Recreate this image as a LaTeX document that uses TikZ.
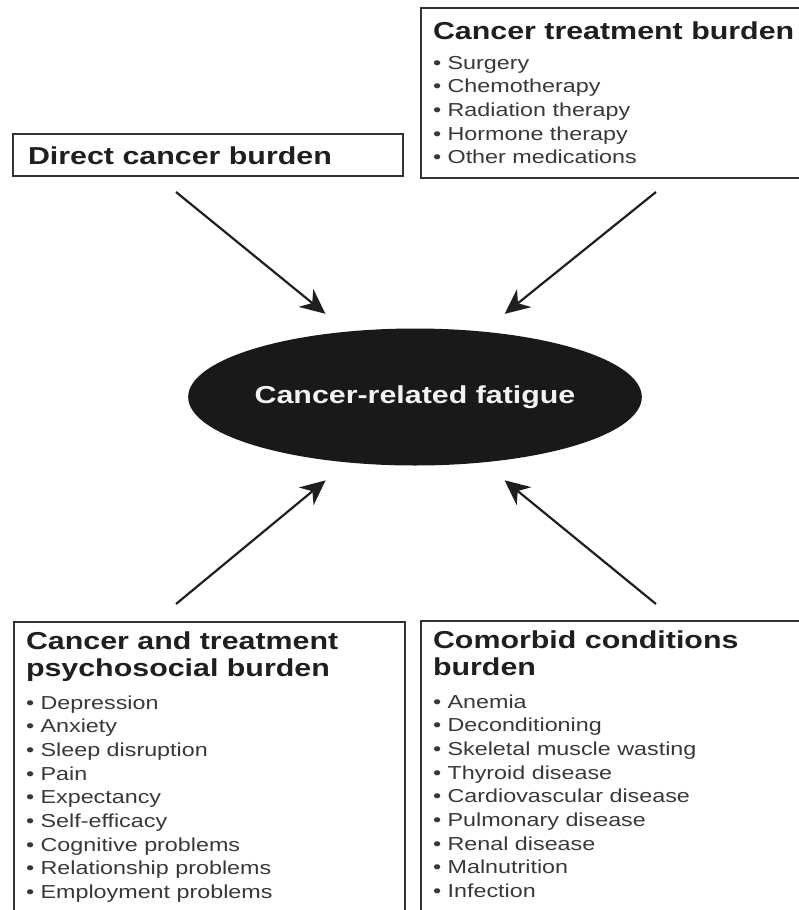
\documentclass[tikz,border=0pt]{standalone}
\usepackage{fontspec}
\setmainfont{Liberation Sans}[FakeStretch=1.24]
\usetikzlibrary{shapes.geometric,arrows.meta}
\setlength{\parskip}{0pt}
\newcommand{\boxtitle}{\fontsize{24.5}{27}\selectfont\bfseries\color{black!88}}
\newcommand{\boxitems}{\fontsize{18.8}{23.7}\selectfont\color{black!78}}
\begin{document}
\begin{tikzpicture}[
    x=1pt, y=-1pt,
    burden/.style={draw=black!80, line width=2pt, anchor=north west, inner xsep=12pt, inner ysep=0pt},
    core/.style={ellipse, fill=black!90, text=white!95!black, minimum width=402pt, minimum height=137pt, inner sep=0pt, font=\fontsize{24.5}{28}\selectfont\bfseries},
    arrow/.style={-{Stealth[length=25pt, width=23pt, inset=8pt]}, line width=2.2pt, draw=black!88, shorten >=28pt}
]
\useasboundingbox (0,0) rectangle (798,910);
% Burden boxes
\node[burden, inner xsep=15pt] (direct) at (12,133) {\begin{minipage}[c][42pt][t]{360pt}
  \boxtitle\rule{0pt}{30pt}Direct cancer burden
\end{minipage}};
\node[burden] (treatment) at (420,7) {\begin{minipage}[c][170pt][t]{400pt}
  {\boxtitle\rule{0pt}{31pt}Cancer treatment burden\par}
  \vspace{6.3pt}
  {\boxitems • Surgery\\ • Chemotherapy\\ • Radiation therapy\\ • Hormone therapy\\ • Other medications\par}
\end{minipage}};
\node[burden] (psychosocial) at (13,621) {\begin{minipage}[c][320pt][t]{367pt}
  {\boxtitle\rule{0pt}{27pt}Cancer and treatment\\psychosocial burden\par}
  \vspace{9.3pt}
  {\boxitems • Depression\\ • Anxiety\\ • Sleep disruption\\ • Pain\\ • Expectancy\\ • Self-efficacy\\ • Cognitive problems\\ • Relationship problems\\ • Employment problems\par}
\end{minipage}};
\node[burden] (comorbid) at (420,620) {\begin{minipage}[c][320pt][t]{400pt}
  {\boxtitle\rule{0pt}{27pt}Comorbid conditions\\burden\par}
  \vspace{9.3pt}
  {\boxitems • Anemia\\ • Deconditioning\\ • Skeletal muscle wasting\\ • Thyroid disease\\ • Cardiovascular disease\\ • Pulmonary disease\\ • Renal disease\\ • Malnutrition\\ • Infection\par}
\end{minipage}};
% Centre
\node[core] (fatigue) at (415,397) {Cancer-related fatigue};
% Arrows
\coordinate (tl) at (176,192);
\coordinate (tr) at (656,192);
\coordinate (bl) at (176,604);
\coordinate (br) at (656,604);
\draw[arrow] (tl) -- (fatigue.136);
\draw[arrow] (tr) -- (fatigue.44);
\draw[arrow] (bl) -- (fatigue.224);
\draw[arrow] (br) -- (fatigue.316);
\end{tikzpicture}
\end{document}
